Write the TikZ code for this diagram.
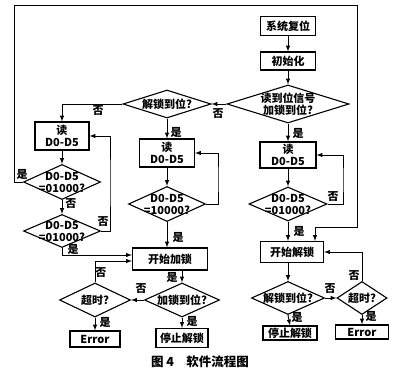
\documentclass[tikz,border=0pt]{standalone}
\usepackage{fontspec}
\setmainfont{Noto Sans CJK SC}
\usetikzlibrary{arrows,shapes.geometric}
\tikzstyle{blk}=[rectangle,draw=black,line width=1.2pt,inner sep=0pt]
\tikzstyle{dia}=[diamond,draw=black,line width=1.1pt,inner sep=0pt]
\tikzstyle{dtxt}=[align=center,inner sep=0pt]
\tikzstyle{lbl}=[inner sep=0pt]
\tikzstyle{flow}=[->,>=latex,line width=1pt]

\begin{document}
\begin{tikzpicture}[flow,x=1pt,y=-1pt,font=\fontsize{11}{12}\selectfont\bfseries]
\useasboundingbox (0,0) rectangle (400,375);
% right column
\node[blk,minimum width=55pt,minimum height=19pt] (rst) at (288,26) {系统复位};
\node[blk,minimum width=55pt,minimum height=18pt] (init) at (288,61) {初始化};
\node[dia,minimum width=122pt,minimum height=38pt,label={[dtxt]center:读到位信号\\加锁到位?}] (chk) at (288,104) {};
\node[blk,minimum width=56pt,minimum height=26pt,align=center] (rdR) at (288,155) {读\\D0-D5};
\node[dia,minimum width=78pt,minimum height=34pt,label={[dtxt]center:D0-D5\\=01000?}] (dR) at (288,204) {};
\node[blk,minimum width=63pt,minimum height=21pt] (unlock) at (292,252) {开始解锁};
\node[dia,minimum width=73pt,minimum height=33pt,label={[dtxt]center:解锁到位?}] (unOk) at (288,298) {};
\node[blk,minimum width=54pt,minimum height=14pt] (stopR) at (290,333) {停止解锁};
\node[dia,minimum width=50pt,minimum height=33pt,label={[dtxt]center:超时?}] (toR) at (362,298) {};
\node[blk,minimum width=53pt,minimum height=14pt] (errR) at (362,332) {Error};
% middle column
\node[dia,minimum width=88pt,minimum height=28pt,label={[dtxt]center:解锁到位?}] (unl) at (167,104) {};
\node[blk,minimum width=55pt,minimum height=28pt,align=center] (rdM) at (167,153) {读\\D0-D5};
\node[dia,minimum width=77pt,minimum height=35pt,label={[dtxt]center:D0-D5\\=10000?}] (dM) at (167,204) {};
\node[blk,minimum width=75pt,minimum height=22pt] (lock) at (170,259) {开始加锁};
\node[dia,minimum width=75pt,minimum height=34pt,label={[dtxt]center:加锁到位?}] (lkOk) at (182,300) {};
\node[blk,minimum width=52pt,minimum height=19pt] (stopL) at (182,338) {停止解锁};
% left column
\node[blk,minimum width=54pt,minimum height=28pt,align=center] (rdL) at (62,136) {读\\D0-D5};
\node[dia,minimum width=77pt,minimum height=35pt,label={[dtxt]center:D0-D5\\=01000?}] (dL1) at (62,182) {};
\node[dia,minimum width=77pt,minimum height=33pt,label={[dtxt]center:D0-D5\\=01000?}] (dL2) at (62,231) {};
\node[dia,minimum width=71pt,minimum height=34pt,label={[dtxt]center:超时?}] (toL) at (95,300) {};
\node[blk,minimum width=50pt,minimum height=16pt] (errL) at (95,339) {Error};
\node[font=\fontsize{12.5}{14}\selectfont\bfseries] (cap) at (200,362) {图 4\quad 软件流程图};
% bends
\coordinate (lp1) at (14,5);
\coordinate (lp2) at (357,227);
\coordinate (cL) at (110,182);
\coordinate (cM) at (218,180);
\coordinate (cR) at (343,180);
% connectors
\draw (rst)--(init);\draw (init)--(chk);
\draw (chk.west)--(unl.east);\node[lbl] at (218,114) {否};
\draw (unl.west)-|(rdL.north);\node[lbl] at (98,111) {否};
\draw (unl.south)--(rdM.north);\node[lbl] at (176,132) {是};
\draw (chk.south)--(rdR.north);\node[lbl] at (298,133) {是};
\draw (rdL)--(dL1);
\draw (dL1.south)--(dL2.north);\node[lbl] at (71,204) {否};
\draw (dL2.east)-|(cL)|-(rdL.east);\node[lbl] at (103,222) {否};
\draw (dL2.south)|-([yshift=4pt]lock.west);\node[lbl] at (73,249) {是};
\draw (dL1.west)-|(lp1)-|(lp2)-|([xshift=23pt]unlock.north);\node[lbl] at (22,174) {是};
\draw (rdM)--(dM);
\draw (dM.east)-|(cM)|-(rdM.east);
\draw (dM.south)--(dM.south|-lock.north);\node[lbl] at (178,237) {是};
\draw (lock.south-|lkOk.north)--(lkOk.north);\node[lbl] at (172,277) {是};
\draw (lkOk.west)--(toL.east);\node[lbl] at (141,289) {否};
\draw (toL.north)|-([yshift=-2pt]lock.west);\node[lbl] at (101,273) {否};
\draw (toL.south)--(errL.north);\node[lbl] at (105,322) {是};
\draw (lkOk.south)--(stopL.north);\node[lbl] at (192,321) {是};
\draw (rdR)--(dR);
\draw (dR.east)-|(cR)|-(rdR.east);\node[lbl] at (333,197) {否};
\draw (dR.south)--(dR.south|-unlock.north);\node[lbl] at (299,231) {是};
\draw (unlock.south-|unOk.north)--(unOk.north);
\draw (unOk.east)--(toR.west);\node[lbl] at (330,289) {否};
\draw (toR.north)|-(unlock.east);\node[lbl] at (354,276) {否};
\draw (toR.south)--(errR.north);\node[lbl] at (371,316) {是};
\draw (unOk.south)--(stopR.north);\node[lbl] at (297,317) {是};
\end{tikzpicture}
\end{document}
